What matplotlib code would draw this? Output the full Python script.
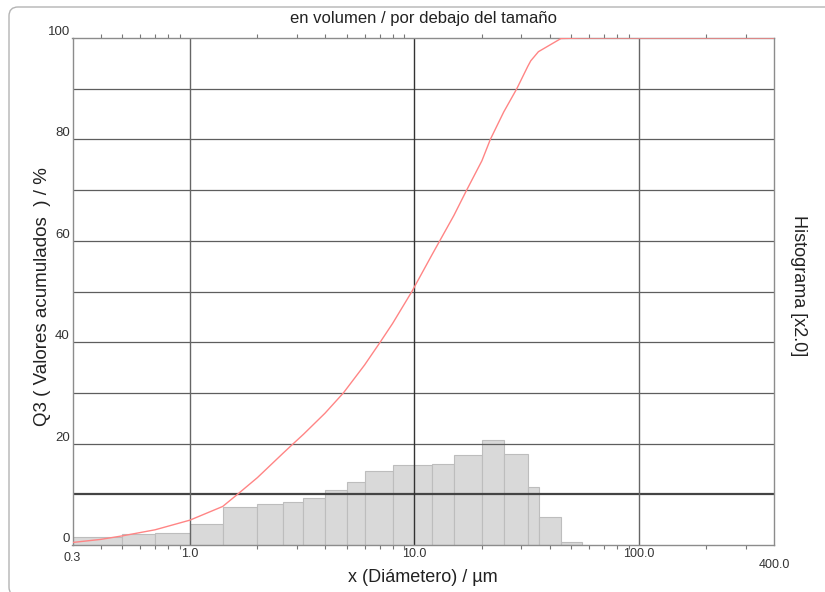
import matplotlib
matplotlib.use("Agg")
import matplotlib.pyplot as plt
from matplotlib.patches import FancyBboxPatch
from matplotlib.transforms import IdentityTransform
from matplotlib.ticker import FixedLocator, NullFormatter

plt.rcParams['font.family'] = ['Liberation Sans', 'DejaVu Sans']

# ---- data ----
bin_edges = [0.3, 0.5, 0.7, 1.0, 1.4, 2.0, 2.6, 3.2, 4.0, 5.0, 6.0, 8.0,
             12.0, 15.0, 20.0, 25.0, 32.0, 36.0, 45.0, 56.0]
hist_values = [1.6, 2.1, 2.3, 4.2, 7.4, 8.1, 8.4, 9.3, 10.8, 12.5, 14.5,
               15.8, 16.0, 17.7, 20.7, 17.9, 11.4, 5.5, 0.65]

cum_x = [0.3, 0.4, 0.5, 0.7, 1.0, 1.4, 1.62, 2.0, 2.6, 2.89, 3.2, 4.0, 4.83,
         6.0, 7.04, 8.0, 9.75, 12.0, 15.0, 17.1, 20.0, 21.8, 25.0,
         28.6, 32.0, 33.0, 35.7, 45.0, 56.0, 400.0]
cum_y = [0.5, 1.1, 1.8, 3.0, 4.9, 7.6, 9.9, 13.3, 18.1, 20.0, 21.8, 26.0, 30.0,
         35.5, 40.0, 43.7, 50.0, 57.3, 65.0, 70.0, 75.8, 80.0, 85.4,
         90.0, 94.4, 95.5, 97.3, 99.9, 100.0, 100.0]

x_tick_values = [0.3, 1.0, 10.0, 100.0, 400.0]
x_tick_labels = ['0.3', '1.0', '10.0', '100.0', '400.0']
y_tick_values = [0, 20, 40, 60, 80, 100]
y_grid_values = [10, 20, 30, 40, 50, 60, 70, 80, 90]
x_grid_values = [1.0, 10.0, 100.0]

title = 'en volumen / por debajo del tamaño'
xlabel = 'x (Diámetero) / µm'
ylabel = 'Q3 ( Valores acumulados  ) / %'
rlabel = 'Histograma [x2.0]'

# ---- figure ----
fig = plt.figure(figsize=(8.25, 5.92), dpi=100)
ax = fig.add_axes([72.5 / 825, 47 / 592, 701.5 / 825, 507 / 592])

# outer rounded border
border = FancyBboxPatch((9, -4), 830, 589, boxstyle='round,pad=0,rounding_size=9',
                        transform=IdentityTransform(), facecolor='none',
                        edgecolor='#b4b4b4', linewidth=1.0)
fig.patches.append(border)

ax.set_xscale('log')
ax.set_xlim(0.3, 400)
ax.set_ylim(0, 100)

widths = [bin_edges[i + 1] - bin_edges[i] for i in range(len(hist_values))]
ax.bar(bin_edges[:-1], hist_values, width=widths, align='edge',
       facecolor='#d9d9d9', edgecolor='#bdbdbd', linewidth=0.8, zorder=1)

for yv in y_grid_values:
    if yv == 10:
        ax.axhline(yv, color='#444444', linewidth=1.6, zorder=2)
    else:
        ax.axhline(yv, color='#5e5e5e', linewidth=0.9, zorder=2)
for xv in x_grid_values:
    col = '#333333' if xv == 10.0 else '#666666'
    ax.axvline(xv, color=col, linewidth=1.0, zorder=2)

ax.plot(cum_x, cum_y, color='#ff8585', linewidth=1.0, zorder=3)

for s in ax.spines.values():
    s.set_color('#8c8c8c')
    s.set_linewidth(1.0)

ax.xaxis.set_major_locator(FixedLocator(x_tick_values))
ax.set_xticklabels(x_tick_labels)
ax.xaxis.set_minor_locator(FixedLocator(
    [v * d for d in (0.1, 1, 10, 100) for v in range(2, 10) if 0.3 < v * d < 400]))
ax.xaxis.set_minor_formatter(NullFormatter())
ax.tick_params(axis='x', which='minor', length=3, direction='out', top=True,
               bottom=True, color='#777777', width=0.8)
ax.tick_params(axis='x', which='major', length=0, pad=2, labelsize=9,
               labelcolor='#333333')

ax.set_yticks(y_tick_values)
ax.set_yticklabels([str(v) for v in y_tick_values])
ax.tick_params(axis='y', which='major', length=0, pad=2, labelsize=9.5,
               labelcolor='#333333')
for lab in ax.get_yticklabels():
    lab.set_va('bottom')

ticks = ax.xaxis.get_major_ticks()
ticks[0].set_pad(5)
ticks[-1].set_pad(10)

ax.set_title(title, fontsize=12, pad=11, color='#222222')
ax.set_xlabel(xlabel, fontsize=13, color='#222222')
ax.xaxis.label.set_va('center')
ax.xaxis.set_label_coords(0.5, (545 - 577) / 507)
ax.set_ylabel(ylabel, fontsize=13.5, color='#222222')
ax.yaxis.label.set_va('center')
ax.yaxis.set_label_coords((43 - 72.5) / 701.5, (545 - 297) / 507)
ax.text((798 - 72.5) / 701.5, (545 - 286) / 507, rlabel, transform=ax.transAxes,
        rotation=-90, ha='center', va='center', fontsize=13, color='#222222')

fig.savefig('out.png', dpi=100)
